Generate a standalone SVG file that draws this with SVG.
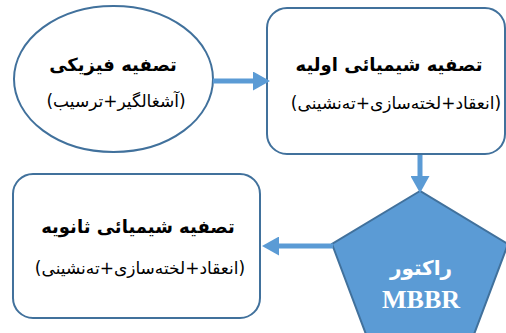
<svg xmlns="http://www.w3.org/2000/svg" width="506" height="333" viewBox="0 0 506 333">
<style>
.shape{fill:#ffffff;stroke:#41719c;stroke-width:2}
.title{font-family:"DejaVu Sans",sans-serif;font-weight:bold;font-size:18px;fill:#000;text-anchor:middle}
.sub{font-family:"DejaVu Sans",sans-serif;font-size:17px;fill:#000;text-anchor:middle}
.conn{stroke:#5b9bd5;stroke-width:5;fill:none}
.wt{fill:#ffffff;text-anchor:middle;font-weight:bold}
</style>
<defs>
<marker id="ah" markerUnits="userSpaceOnUse" markerWidth="17" markerHeight="19" refX="0" refY="9.5" orient="auto" viewBox="0 0 17 19">
<path d="M0,0 L17,9.5 L0,19 Z" fill="#5b9bd5"/>
</marker>
</defs>
<rect width="506" height="333" fill="#ffffff"/>
<g id="node-physical">
<ellipse class="shape" cx="113.5" cy="79" rx="99.5" ry="73"/>
<text class="title" x="113" y="71" direction="rtl">تصفیه فیزیکی</text>
<text class="sub" x="116" y="107" direction="rtl">(آشغالگیر+ترسیب)</text>
</g>
<g id="node-primary">
<rect class="shape" x="267" y="8" width="238" height="146" rx="20" ry="20"/>
<text class="title" x="389" y="71" direction="rtl">تصفیه شیمیائی اولیه</text>
<text class="sub" x="396" y="109" direction="rtl">(انعقاد+لخته‌سازی+ته‌نشینی)</text>
</g>
<g id="node-mbbr">
<polygon points="420,191 332,244 370,345 470,345 508,244" fill="#5b9bd5" stroke="#41719c" stroke-width="2"/>
<text class="wt" x="421" y="275" font-family="DejaVu Sans,sans-serif" font-size="20" direction="rtl">راکتور</text>
<text class="wt" x="421" y="308" font-family="Liberation Serif,serif" font-size="26">MBBR</text>
</g>
<g id="node-secondary">
<rect class="shape" x="13" y="174" width="247" height="144" rx="20" ry="20"/>
<text class="title" x="138" y="233" direction="rtl">تصفیه شیمیائی ثانویه</text>
<text class="sub" x="140" y="274" direction="rtl">(انعقاد+لخته‌سازی+ته‌نشینی)</text>
</g>
<g id="connectors">
<line class="conn" x1="213" y1="81" x2="253" y2="81" marker-end="url(#ah)"/>
<line class="conn" x1="420" y1="155" x2="420" y2="176" marker-end="url(#ah)"/>
<line class="conn" x1="333" y1="246" x2="279" y2="246" marker-end="url(#ah)"/>
</g>
</svg>
